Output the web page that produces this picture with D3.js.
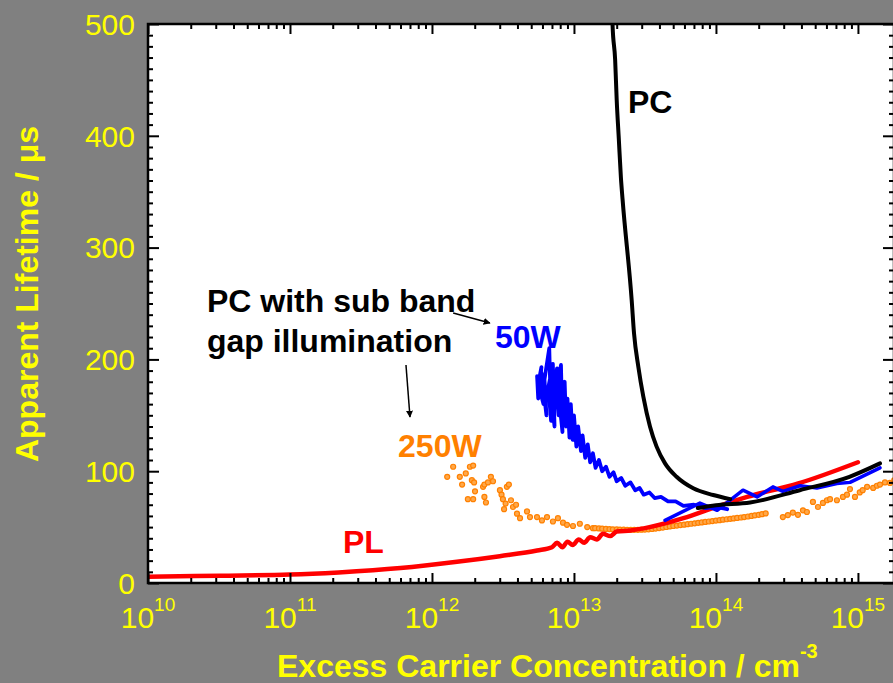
<!DOCTYPE html>
<html>
<head>
<meta charset="utf-8">
<script src="https://cdn.jsdelivr.net/npm/d3@7"></script>
<style>
  body { margin: 0; background: #808080; }
  text { font-family: "Liberation Sans", Arial, sans-serif; }
</style>
</head>
<body>
<div class="chart"></div>
<script>
// Data: [carrier concentration (cm^-3), lifetime (us)]
var pcDecay = [
  [1.84e13, 530], [1.87e13, 499], [1.95e13, 468], [2.0e13, 432], [2.07e13, 397], [2.14e13, 363],
  [2.20e13, 343], [2.55e13, 253], [2.65e13, 223], [2.84e13, 193.5], [3.08e13, 166.6],
  [3.43e13, 140], [3.82e13, 122], [4.38e13, 107], [5.28e13, 95], [6.92e13, 84.7],
  [9.57e13, 78.7], [1.26e14, 75]
];
var pcRise = [
  [7.46e13, 67], [1.0e14, 69.5], [1.74e14, 72], [3.89e14, 83], [8.71e14, 95], [1.43e15, 107]
];
var plCurve = [
  [1.0e10, 5.6], [3.2e10, 6.5], [1.0e11, 7.5], [2.2e11, 9.5], [6.0e11, 13.4], [1.5e12, 19],
  [3.0e12, 24], [5.5e12, 29], [7.0e12, 32], [7.6e12, 36], [8.3e12, 32], [9.0e12, 37],
  [9.8e12, 34], [1.08e13, 39], [1.18e13, 36], [1.3e13, 41], [1.45e13, 39], [1.6e13, 44],
  [1.8e13, 42], [2.0e13, 46], [2.5e13, 47], [3.4e13, 50], [5.9e13, 58], [1.0e14, 68],
  [1.66e14, 77], [3.8e14, 89], [1.0e15, 108]
];
var blue50W = [
  [5.6e12, 165], [5.5e12, 185], [5.7e12, 172], [5.9e12, 193], [5.6e12, 178], [6.1e12, 160],
  [5.9e12, 188], [6.4e12, 150], [6.2e12, 182], [6.7e12, 210], [6.9e12, 145], [6.6e12, 175],
  [7.1e12, 196], [7.3e12, 140], [7.0e12, 160], [7.6e12, 192], [7.8e12, 150], [7.5e12, 170],
  [8.1e12, 195], [8.3e12, 135], [8.0e12, 155], [8.6e12, 180], [8.8e12, 140], [9.0e12, 165],
  [9.3e12, 130], [9.5e12, 160], [9.8e12, 128], [1.0e13, 150], [1.04e13, 122], [1.07e13, 140],
  [1.12e13, 118], [1.15e13, 132], [1.2e13, 112], [1.25e13, 124], [1.3e13, 108], [1.36e13, 116],
  [1.42e13, 103], [1.5e13, 110], [1.58e13, 100], [1.68e13, 104], [1.78e13, 95], [1.9e13, 99],
  [2.0e13, 91], [2.15e13, 94], [2.3e13, 87], [2.5e13, 90], [2.7e13, 83], [2.9e13, 85],
  [3.1e13, 79], [3.4e13, 81], [3.7e13, 76], [4.1e13, 77], [4.6e13, 73], [5.2e13, 73],
  [5.9e13, 69], [7.0e13, 70], [8.5e13, 67], [1.0e14, 68], [1.2e14, 66]
];
var blue50WHigh = [
  [4.38e13, 56], [7.71e13, 71.5], [1.02e14, 65], [1.55e14, 83], [1.95e14, 77], [2.52e14, 86],
  [2.96e14, 82], [3.91e14, 87], [5.14e14, 85], [7.11e14, 89], [8.8e14, 90], [1.43e15, 103]
];
var orange250W = [
  [1.28e12, 95], [1.41e12, 104], [1.57e12, 95], [1.63e12, 88], [1.73e12, 98], [1.79e12, 75],
  [1.85e12, 104], [1.95e12, 105], [1.91e12, 92], [1.95e12, 75], [1.98e12, 90], [2.01e12, 82],
  [2.29e12, 86], [2.34e12, 88], [2.34e12, 77], [2.40e12, 72], [2.48e12, 90], [2.60e12, 95],
  [2.69e12, 91], [3.01e12, 83], [3.09e12, 79], [3.16e12, 75], [3.22e12, 66], [3.37e12, 86],
  [3.48e12, 88], [3.30e12, 71], [3.60e12, 74], [3.72e12, 68], [3.91e12, 70], [3.97e12, 62],
  [4.17e12, 58], [4.67e12, 64], [4.90e12, 59], [5.49e12, 59], [5.95e12, 56], [6.46e12, 59],
  [7.11e12, 55], [7.71e12, 58], [8.37e12, 54], [8.93e12, 52], [9.84e12, 51], [1.10e13, 53],
  [1.24e13, 50], [1.36e13, 49],
  [1.41e13, 49.0], [1.50e13, 48.8], [1.58e13, 48.6], [1.68e13, 48.4], [1.78e13, 48.2],
  [1.88e13, 48.0], [2.00e13, 47.9], [2.11e13, 47.8], [2.24e13, 47.7], [2.37e13, 47.6],
  [2.51e13, 47.6], [2.66e13, 47.6], [2.82e13, 47.6], [2.99e13, 47.7], [3.16e13, 47.8],
  [3.35e13, 48.0], [3.55e13, 48.3], [3.76e13, 48.7], [3.98e13, 49.1], [4.22e13, 49.6],
  [4.47e13, 50.1], [4.73e13, 50.6], [5.01e13, 51.0], [5.31e13, 51.4], [5.62e13, 51.8],
  [5.96e13, 52.2], [6.31e13, 52.6], [6.68e13, 53.0], [7.08e13, 53.4], [7.50e13, 53.8],
  [7.94e13, 54.2], [8.41e13, 54.6], [8.91e13, 55.0], [9.44e13, 55.4], [1.00e14, 55.8],
  [1.06e14, 56.2], [1.12e14, 56.6], [1.19e14, 57.0], [1.26e14, 57.4], [1.33e14, 57.8],
  [1.41e14, 58.2], [1.50e14, 58.6], [1.58e14, 59.0], [1.68e14, 59.5], [1.78e14, 60.0],
  [1.88e14, 60.5], [2.00e14, 61.0], [2.11e14, 61.6], [2.24e14, 62.2],
  [2.96e14, 59], [3.21e14, 60.8], [3.48e14, 63], [3.78e14, 61], [4.1e14, 65], [4.37e14, 63.5],
  [4.82e14, 72.5], [5.23e14, 68], [5.67e14, 71.6], [6.05e14, 74], [6.36e14, 75], [7.11e14, 74],
  [7.84e14, 77], [8.37e14, 79], [8.79e14, 84], [9.53e14, 77], [1.03e15, 81], [1.08e15, 83],
  [1.16e15, 86], [1.28e15, 85], [1.36e15, 87], [1.43e15, 88], [1.55e15, 90], [1.68e15, 89.5],
  [1.8e15, 92]
];

var xDecades = [10, 11, 12, 13, 14, 15];
var yTicks = [0, 100, 200, 300, 400, 500];

// Annotations in data coordinates
var labels = [
  { text: "PC", x: 2.40e13, y: 420, color: "#000000" },
  { text: "50W", x: 2.78e12, y: 210, color: "#0000FF" },
  { text: "250W", x: 5.77e11, y: 112.7, color: "#FF8000" },
  { text: "PL", x: 2.36e11, y: 26.8, color: "#FF0000" },
  { text: "PC with sub band", x: 2.6e10, y: 242.4, color: "#000000" },
  { text: "gap illumination", x: 2.6e10, y: 206.6, color: "#000000" }
];
var arrows = [
  [[1.41e12, 241.5], [2.56e12, 232.6]],
  [[6.56e11, 195], [7.0e11, 148.5]]
];

// Canvas and margins
var svgWidth = 893;
var svgHeight = 683;
var margin = { top: 24, bottom: 100, left: 148, right: -1 };
var width = svgWidth - margin.left - margin.right;
var height = svgHeight - margin.top - margin.bottom;

var svg = d3.select(".chart")
  .append("svg")
  .attr("width", svgWidth)
  .attr("height", svgHeight)
  .style("display", "block");

svg.append("rect")
  .attr("width", svgWidth).attr("height", svgHeight)
  .attr("fill", "#808080");

var chartGroup = svg.append("g")
  .attr("transform", `translate(${margin.left}, ${margin.top})`);

chartGroup.append("rect")
  .attr("width", width).attr("height", height)
  .attr("fill", "#ffffff");

// Scales
var xLogScale = d3.scaleLog()
  .domain([1e10, Math.pow(10, 15.254)])
  .range([0, width]);
var yLinearScale = d3.scaleLinear()
  .domain([0, 500])
  .range([height, 0]);

chartGroup.append("clipPath").attr("id", "clip")
  .append("rect").attr("width", width).attr("height", height);

var plot = chartGroup.append("g").attr("clip-path", "url(#clip)");

function drawLine(data, color, w, curve) {
  var line = d3.line()
    .x(d => xLogScale(d[0]))
    .y(d => yLinearScale(d[1]))
    .curve(curve || d3.curveLinear);
  plot.append("path")
    .datum(data)
    .attr("d", line)
    .attr("fill", "none")
    .attr("stroke", color)
    .attr("stroke-width", w)
    .attr("stroke-linejoin", "round")
    .attr("stroke-linecap", "round");
}

// Orange dots
plot.selectAll("circle")
  .data(orange250W)
  .enter()
  .append("circle")
  .attr("cx", d => xLogScale(d[0]))
  .attr("cy", d => yLinearScale(d[1]))
  .attr("r", 2.5)
  .attr("fill", "#FFA84A")
  .attr("stroke", "#FF8000")
  .attr("stroke-width", 1.2);

drawLine(plCurve, "#FF0000", 4.5, d3.curveMonotoneX);
drawLine(blue50W, "#0000FF", 3.8);
drawLine(blue50WHigh, "#0000FF", 3.5);
drawLine(pcDecay, "#000000", 4, d3.curveMonotoneX);
drawLine(pcRise, "#000000", 4, d3.curveMonotoneX);

// Axis ticks (inward)
var minorX = [];
xDecades.forEach(function(e) {
  for (var m = 2; m <= 9; m++) minorX.push(m * Math.pow(10, e));
});
var majorX = xDecades.map(e => Math.pow(10, e));
var minorY = d3.range(0, 501, 10).filter(v => v % 100 !== 0);

function tickAxis(axis, transform) {
  var g = chartGroup.append("g").attr("transform", transform).call(axis);
  g.select(".domain").remove();
  g.selectAll("line").attr("stroke", "#000").attr("stroke-width", 2);
  g.selectAll("text").remove();
}

tickAxis(d3.axisBottom(xLogScale).tickValues(majorX).tickSize(-10).tickFormat(""), `translate(0, ${height})`);
tickAxis(d3.axisBottom(xLogScale).tickValues(minorX).tickSize(-5).tickFormat(""), `translate(0, ${height})`);
tickAxis(d3.axisTop(xLogScale).tickValues(majorX).tickSize(-10).tickFormat(""), "translate(0, 0)");
tickAxis(d3.axisTop(xLogScale).tickValues(minorX).tickSize(-5).tickFormat(""), "translate(0, 0)");
tickAxis(d3.axisLeft(yLinearScale).tickValues(yTicks).tickSize(-11).tickFormat(""), "translate(0, 0)");
tickAxis(d3.axisLeft(yLinearScale).tickValues(minorY).tickSize(-5).tickFormat(""), "translate(0, 0)");
tickAxis(d3.axisRight(yLinearScale).tickValues(yTicks).tickSize(-11).tickFormat(""), `translate(${width}, 0)`);
tickAxis(d3.axisRight(yLinearScale).tickValues(minorY).tickSize(-5).tickFormat(""), `translate(${width}, 0)`);

chartGroup.append("rect")
  .attr("width", width).attr("height", height)
  .attr("fill", "none")
  .attr("stroke", "#000")
  .attr("stroke-width", 2.5);

// Tick labels
chartGroup.selectAll(".ylab")
  .data(yTicks)
  .enter()
  .append("text")
  .attr("class", "ylab")
  .attr("x", -13)
  .attr("y", d => yLinearScale(d))
  .attr("dy", "0.36em")
  .attr("text-anchor", "end")
  .attr("font-size", 30)
  .attr("fill", "#FFFF00")
  .text(d => d);

var xLab = chartGroup.selectAll(".xlab")
  .data(xDecades)
  .enter()
  .append("text")
  .attr("class", "xlab")
  .attr("x", d => xLogScale(Math.pow(10, d)))
  .attr("y", height + 45)
  .attr("text-anchor", "middle")
  .attr("font-size", 30)
  .attr("fill", "#FFFF00");
xLab.append("tspan").text("10");
xLab.append("tspan").attr("dy", -17).attr("font-size", 19).text(d => d);

// Axis titles
var xTitle = svg.append("text")
  .attr("x", 277)
  .attr("y", 677)
  .attr("font-size", 32)
  .attr("font-weight", "bold")
  .attr("fill", "#FFFF00");
xTitle.append("tspan").text("Excess Carrier Concentration / cm");
xTitle.append("tspan").attr("dy", -19).attr("font-size", 20).text("-3");

svg.append("text")
  .attr("transform", "translate(38, 294) rotate(-90)")
  .attr("text-anchor", "middle")
  .attr("font-size", 32)
  .attr("font-weight", "bold")
  .attr("fill", "#FFFF00")
  .text("Apparent Lifetime / μs");

// Annotations
chartGroup.selectAll(".note")
  .data(labels)
  .enter()
  .append("text")
  .attr("class", "note")
  .attr("x", d => xLogScale(d.x))
  .attr("y", d => yLinearScale(d.y))
  .attr("font-size", 32)
  .attr("font-weight", "bold")
  .attr("fill", d => d.color)
  .text(d => d.text);

svg.append("defs").append("marker")
  .attr("id", "arrowhead")
  .attr("viewBox", "0 0 10 10")
  .attr("refX", 9).attr("refY", 5)
  .attr("markerWidth", 7).attr("markerHeight", 7)
  .attr("markerUnits", "userSpaceOnUse")
  .attr("orient", "auto")
  .append("path").attr("d", "M0,0 L10,5 L0,10 z").attr("fill", "#000");

chartGroup.selectAll(".arrow")
  .data(arrows)
  .enter()
  .append("line")
  .attr("x1", d => xLogScale(d[0][0]))
  .attr("y1", d => yLinearScale(d[0][1]))
  .attr("x2", d => xLogScale(d[1][0]))
  .attr("y2", d => yLinearScale(d[1][1]))
  .attr("stroke", "#000")
  .attr("stroke-width", 1.5)
  .attr("marker-end", "url(#arrowhead)");
</script>
</body>
</html>
